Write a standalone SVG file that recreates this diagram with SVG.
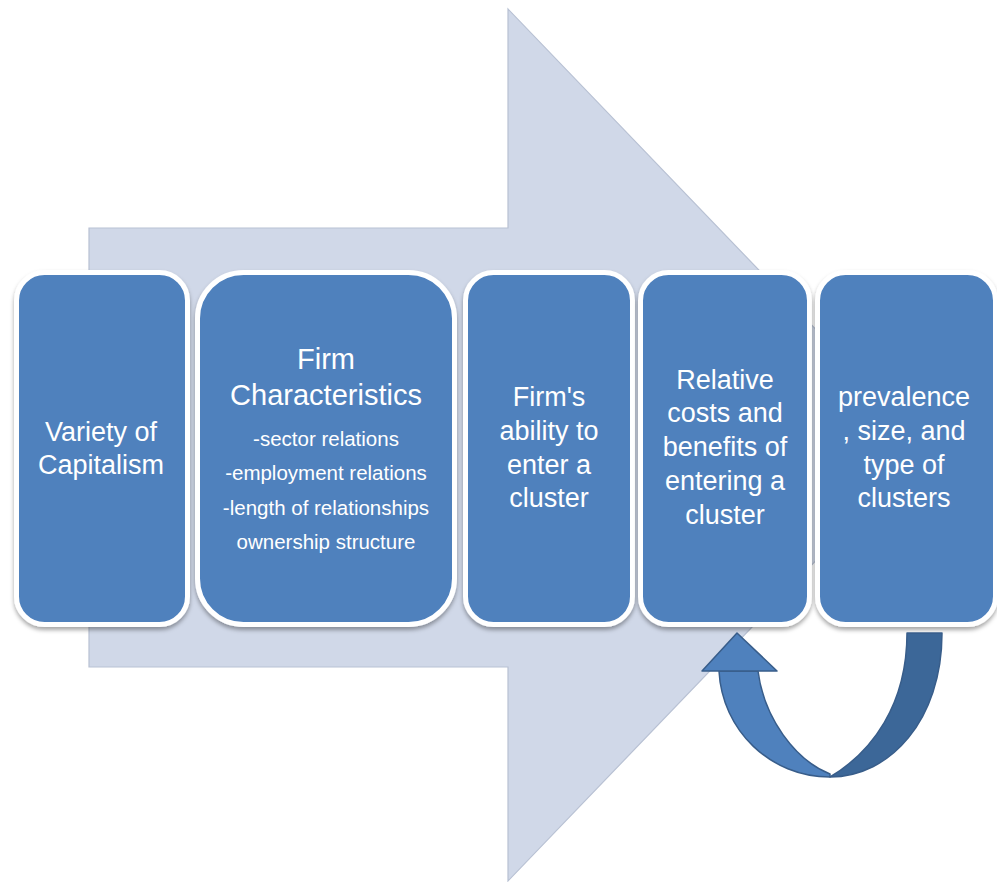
<svg xmlns="http://www.w3.org/2000/svg" width="997" height="882" viewBox="0 0 997 882">
  <defs>
    <filter id="shadow" x="-10%" y="-10%" width="120%" height="120%">
      <feDropShadow dx="0" dy="3" stdDeviation="2" flood-color="#000" flood-opacity="0.35"/>
    </filter>
  </defs>
  <style>
    .box { fill: #4f81bd; stroke: #ffffff; stroke-width: 5; filter: url(#shadow); }
    .lbl { font-family: "Liberation Sans", Arial, sans-serif; fill: #ffffff; text-anchor: middle; }
    .big { font-size: 27px; }
    .head { font-size: 29px; }
    .sub { font-size: 20.5px; }
  </style>

  <rect width="997" height="882" fill="#ffffff"/>

  <!-- background process arrow -->
  <polygon id="process-arrow" points="89,228 508,228 508,9 927,445 508,881 508,667 89,667"
           fill="#d0d8e8" stroke="#b8c1d3" stroke-width="1.2"/>

  <g id="node-variety">
    <rect class="box" x="16.5" y="272.5" width="171" height="352" rx="28"/>
    <text class="lbl big" x="101" y="441">Variety of</text>
    <text class="lbl big" x="101" y="474">Capitalism</text>
  </g>

  <g id="node-firm-characteristics">
    <rect class="box" x="197.5" y="272.5" width="257" height="352" rx="46"/>
    <text class="lbl head" x="326" y="369">Firm</text>
    <text class="lbl head" x="326" y="405">Characteristics</text>
    <text class="lbl sub" x="326" y="446">-sector relations</text>
    <text class="lbl sub" x="326" y="480">-employment relations</text>
    <text class="lbl sub" x="326" y="515">-length of relationships</text>
    <text class="lbl sub" x="326" y="549">ownership structure</text>
  </g>

  <g id="node-ability">
    <rect class="box" x="465.5" y="272.5" width="167" height="352" rx="28"/>
    <text class="lbl big" x="549" y="406">Firm's</text>
    <text class="lbl big" x="549" y="440">ability to</text>
    <text class="lbl big" x="549" y="474">enter a</text>
    <text class="lbl big" x="549" y="507">cluster</text>
  </g>

  <g id="node-costs-benefits">
    <rect class="box" x="640.5" y="272.5" width="169" height="352" rx="28"/>
    <text class="lbl big" x="725" y="389">Relative</text>
    <text class="lbl big" x="725" y="422">costs and</text>
    <text class="lbl big" x="725" y="456">benefits of</text>
    <text class="lbl big" x="725" y="490">entering a</text>
    <text class="lbl big" x="725" y="524">cluster</text>
  </g>

  <g id="node-prevalence">
    <rect class="box" x="817.5" y="272.5" width="178" height="352" rx="28"/>
    <text class="lbl big" x="904" y="406">prevalence</text>
    <text class="lbl big" x="904" y="440">, size, and</text>
    <text class="lbl big" x="904" y="474">type of</text>
    <text class="lbl big" x="904" y="507">clusters</text>
  </g>

  <!-- feedback loop: curved up arrow from the last stage back to the fourth -->
  <g id="connectors" stroke="#385d8a" stroke-width="1.5" stroke-linejoin="round">
    <path d="M907,633 L942,633 C942,720 890,777 830,777 C872,752 907,705 907,633 Z" fill="#3c6798"/>
    <path d="M719,671 L758,671 C764,718 795,760 830,774 L830,777 C770,777 722,730 719,671 Z" fill="#4f81bd"/>
    <polygon points="702,671 737,633 777,671" fill="#4f81bd"/>
  </g>
</svg>
